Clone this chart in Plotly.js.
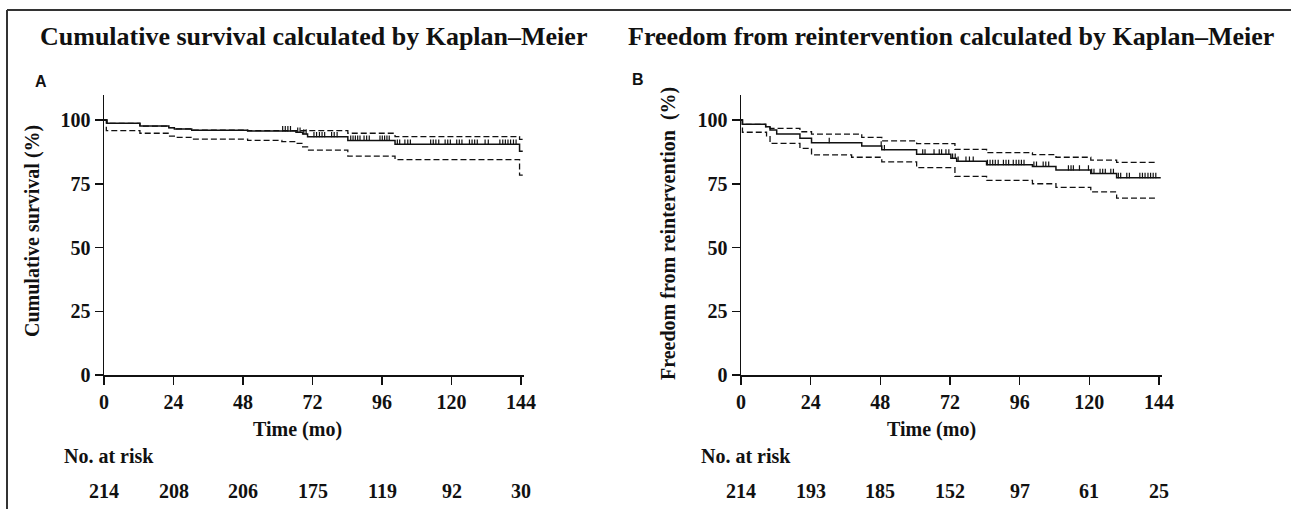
<!DOCTYPE html>
<html>
<head>
<meta charset="utf-8">
<script src="https://cdn.plot.ly/plotly-3.0.1.min.js"></script>
<style>html,body{margin:0;padding:0;background:#fff;}#chart{width:1291px;height:509px;}</style>
</head>
<body>
<div id="chart"></div>
<script>
// ---------- Panel A: cumulative survival ----------
const A_km_t = [0, 1, 12.4, 22.4, 24.3, 30.3, 49.6, 66.3, 68.6, 70.3, 84.2, 100.5, 143.5, 144.6];
const A_km_s = [100, 98.7, 97.6, 97.0, 96.5, 96.0, 95.7, 95.2, 94.5, 93.4, 92.0, 90.5, 87.7, 87.7];
const A_up_t = [0, 1, 12.4, 22.4, 24.3, 30.3, 49.6, 84.2, 100.5, 143.5, 144.6];
const A_up_s = [100, 98.7, 97.6, 97.0, 96.5, 96.0, 95.8, 94.8, 93.5, 92.4, 92.4];
const A_lo_t = [0, 0.8, 12.4, 22.4, 24.3, 30.3, 49.6, 61.4, 66.3, 68.6, 70.3, 84.2, 100.5, 143.5, 144.6];
const A_lo_s = [100, 95.8, 94.8, 93.7, 93.2, 92.5, 92.0, 91.5, 90.8, 89.5, 88.2, 85.8, 84.5, 78.4, 78.4];
const A_censor = [61.7, 62.6, 63.5, 64.4, 66.9, 67.7, 69.0, 69.8, 72.5, 73.4, 74.4, 75.3, 76.2, 78.6, 79.5, 80.5,
  85.2, 86.0, 86.8, 87.6, 88.4, 89.8, 90.7, 91.6, 95.3, 96.1, 96.9, 97.7, 98.5, 101.3, 102.1, 103.9, 104.9, 105.8,
  112.8, 113.7, 114.6, 115.6, 117.8, 118.7, 119.6, 121.8, 122.7, 123.6, 126.2, 127.1, 128.0, 128.9, 131.6, 132.7,
  136.7, 137.7, 138.6, 139.5, 140.4, 141.4, 142.3];
const A_risk = [214, 208, 206, 175, 119, 92, 30];

// ---------- Panel B: freedom from reintervention ----------
const B_km_t = [0, 0.5, 8.5, 10, 12.3, 20.3, 24.3, 41.6, 48.5, 60.5, 72.3, 74.3, 84.6, 100.4, 108.5, 120.5, 129.4, 144.6];
const B_km_s = [100, 98.3, 97.4, 96.1, 94.5, 92.8, 91.1, 89.8, 88.3, 86.6, 85.0, 83.8, 82.5, 81.8, 80.4, 79.0, 77.4, 77.4];
const B_up_t = [0, 0.5, 8.5, 10, 20.3, 24.3, 41.6, 48.5, 60.5, 73.7, 84.6, 100.4, 108.5, 120.5, 129.4, 142.6];
const B_up_s = [100, 98.3, 97.4, 96.7, 95.4, 94.5, 93.2, 91.8, 90.7, 88.5, 87.2, 86.4, 85.4, 84.3, 83.4, 83.4];
const B_lo_t = [0, 0.5, 8.8, 10, 20.3, 24.3, 38.1, 48.5, 60.5, 73.7, 84.6, 100.4, 108.5, 120.5, 129.4, 142.6];
const B_lo_s = [100, 95.2, 93.5, 90.8, 88.9, 86.3, 85.4, 83.6, 81.3, 77.9, 76.3, 75.0, 73.6, 71.8, 69.4, 69.4];
const B_censor = [30.4, 48.3, 49.4, 62.6, 63.4, 66.5, 68.3, 69.1, 70.6, 71.6, 72.9, 73.8, 74.8, 77.5, 78.7, 80.0,
  84.9, 85.8, 86.7, 87.6, 88.6, 90.4, 91.3, 92.2, 93.8, 94.8, 95.7, 96.6, 97.5, 100.9, 101.8, 104.1, 105.0, 106.0,
  112.8, 113.7, 114.5, 116.6, 119.7, 120.8, 121.6, 123.7, 124.6, 125.5, 127.4, 128.3, 130.0, 130.8, 132.9, 133.8,
  137.4, 138.3, 139.2, 140.2, 141.1, 142.0, 142.9];
const B_risk = [214, 193, 185, 152, 97, 61, 25];

const xTicks = [0, 24, 48, 72, 96, 120, 144];
const yTicks = [0, 25, 50, 75, 100];

const titleA = "Cumulative survival calculated by Kaplan\u2013Meier";
const titleB = "Freedom from reintervention calculated by Kaplan\u2013Meier";
const yTitleA = "Cumulative survival (%)";
const yTitleB = "Freedom from reintervention\u00a0 (%)";
const xTitle = "Time (mo)";
const riskLabel = "No. at risk";

// ---------- helpers ----------
function stepAt(ts, ss, t) {
  let v = ss[0];
  for (let i = 0; i < ts.length; i++) { if (ts[i] <= t) v = ss[i]; else break; }
  return v;
}
const SERIF = "Liberation Serif, Times New Roman, serif";
const SANS = "Liberation Sans, Arial, sans-serif";
function stepTrace(t, s, xa, ya, dash, w) {
  return {x: t, y: s, xaxis: xa, yaxis: ya, type: 'scatter', mode: 'lines',
    line: {shape: 'hv', color: '#111', width: w, dash: dash}, hoverinfo: 'skip', showlegend: false, cliponaxis: false};
}
function censorTrace(c, ts, ss, xa, ya) {
  return {x: c, y: c.map(t => stepAt(ts, ss, t)), xaxis: xa, yaxis: ya, type: 'scatter', mode: 'markers',
    marker: {size: 1, opacity: 0}, showlegend: false, hoverinfo: 'skip',
    error_y: {type: 'constant', symmetric: false, value: 1.9, valueminus: 0.2, width: 0, thickness: 1.2, color: '#111'}};
}
const DASH = '6px,3px';
const traces = [
  stepTrace(A_up_t, A_up_s, 'x', 'y', DASH, 1.3),
  stepTrace(A_lo_t, A_lo_s, 'x', 'y', DASH, 1.3),
  stepTrace(A_km_t, A_km_s, 'x', 'y', 'solid', 1.5),
  censorTrace(A_censor, A_km_t, A_km_s, 'x', 'y'),
  stepTrace(B_up_t, B_up_s, 'x2', 'y2', DASH, 1.3),
  stepTrace(B_lo_t, B_lo_s, 'x2', 'y2', DASH, 1.3),
  stepTrace(B_km_t, B_km_s, 'x2', 'y2', 'solid', 1.5),
  censorTrace(B_censor, B_km_t, B_km_s, 'x2', 'y2'),
];

const W = 1291, H = 509;
const tickFont = {family: SERIF, size: 20, color: '#111', weight: 'bold'};
function xAxis(d0, d1, anchor) {
  return {domain: [d0 / W, d1 / W], range: [0, 145], anchor: anchor, tickvals: xTicks, ticks: 'outside', ticklen: 8,
    tickwidth: 1.5, tickcolor: '#111', showline: true, linecolor: '#111', linewidth: 1.5, showgrid: false,
    zeroline: false, tickfont: tickFont, fixedrange: true};
}
function yAxis(anchor) {
  return {domain: [(H - 375) / H, (H - 94.5) / H], range: [0, 110], anchor: anchor, tickvals: yTicks, ticks: 'outside',
    ticklen: 8, tickwidth: 1.5, tickcolor: '#111', showline: true, linecolor: '#111', linewidth: 1.5, showgrid: false,
    zeroline: false, tickfont: tickFont, fixedrange: true};
}
function px(x) { return x / W; }
function py(y) { return 1 - y / H; }
function txt(text, x, y, size, opts) {
  return Object.assign({text: text, x: px(x), y: py(y), xref: 'paper', yref: 'paper', showarrow: false,
    xanchor: 'center', yanchor: 'middle', font: {family: SERIF, size: size, color: '#111', weight: 'bold'}}, opts || {});
}
const annotations = [
  txt(titleA, 313, 36, 26),
  txt(titleB, 951, 36, 26),
  txt('A', 40.5, 81, 16, {font: {family: SANS, size: 16, color: '#111', weight: 'bold'}}),
  txt('B', 637.5, 80, 16, {font: {family: SANS, size: 16, color: '#111', weight: 'bold'}}),
  txt(yTitleA, 32, 231, 20, {textangle: -90}),
  txt(yTitleB, 669, 234, 20, {textangle: -90}),
  txt(xTitle, 297, 429, 20),
  txt(xTitle, 931, 429, 20),
  txt(riskLabel, 62, 456, 20, {xanchor: 'left'}),
  txt(riskLabel, 699, 456, 20, {xanchor: 'left'}),
];
A_risk.forEach((n, i) => annotations.push({text: String(n), x: xTicks[i], y: py(491), xref: 'x', yref: 'paper',
  showarrow: false, xanchor: 'center', yanchor: 'middle', font: {family: SERIF, size: 20, color: '#111', weight: 'bold'}}));
B_risk.forEach((n, i) => annotations.push({text: String(n), x: xTicks[i], y: py(491), xref: 'x2', yref: 'paper',
  showarrow: false, xanchor: 'center', yanchor: 'middle', font: {family: SERIF, size: 20, color: '#111', weight: 'bold'}}));

const layout = {
  width: W, height: H, margin: {l: 0, r: 0, t: 0, b: 0}, paper_bgcolor: '#fff', plot_bgcolor: 'rgba(0,0,0,0)',
  showlegend: false,
  xaxis: xAxis(104, 523.9, 'y'),
  yaxis: yAxis('x'),
  xaxis2: xAxis(741, 1161.9, 'y2'),
  yaxis2: yAxis('x2'),
  annotations: annotations,
  shapes: [
    {type: 'line', xref: 'paper', yref: 'paper', x0: px(7), x1: px(7), y0: py(10), y1: 0, line: {color: '#333', width: 2}},
    {type: 'line', xref: 'paper', yref: 'paper', x0: px(7), x1: 1, y0: py(10), y1: py(10), line: {color: '#333', width: 2}}
  ]
};
Plotly.newPlot('chart', traces, layout, {staticPlot: true, displayModeBar: false});
</script>
</body>
</html>
